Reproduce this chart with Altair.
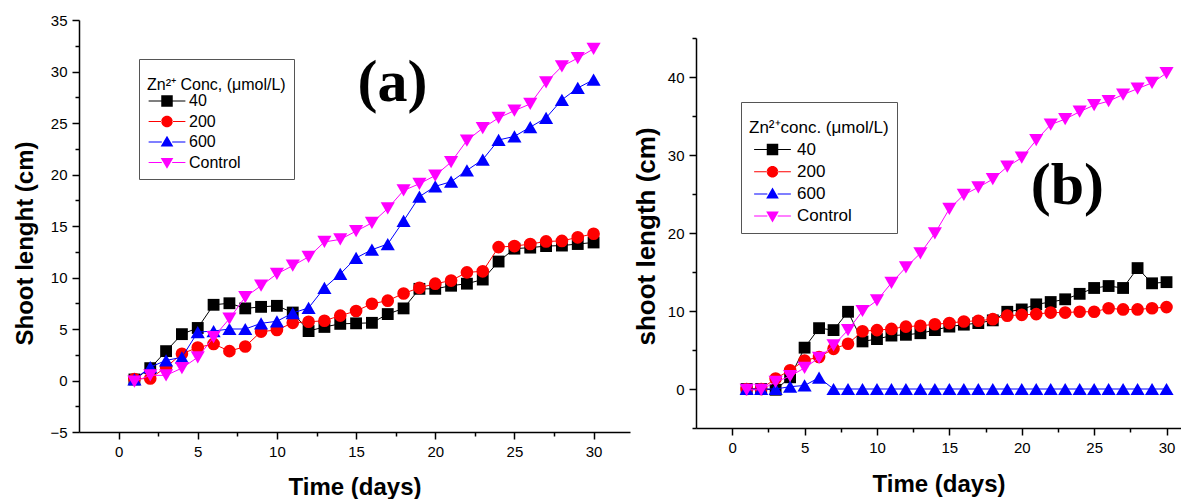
import altair as alt
import pandas as pd

days = list(range(1, 31))
series = ["40", "200", "600", "Control"]
colors = ["#000000", "#FF0000", "#0000FF", "#FF00FF"]
shapes = ["square", "circle", "triangle-up", "triangle-down"]
sizes = [140, 160, 200, 200]

# Panel (a)
a_40 = [0.1, 1.2, 2.85, 4.5, 5.1, 7.35, 7.5, 7.0, 7.15, 7.25, 6.6, 4.8, 5.2, 5.5, 5.55,
        5.6, 6.45, 7.0, 8.9, 8.9, 9.2, 9.4, 9.8, 11.55, 12.8, 12.9, 13.05, 13.1, 13.25, 13.4]
a_200 = [0.15, 0.2, 1.3, 2.6, 3.2, 3.55, 2.85, 3.3, 4.75, 4.9, 5.6, 5.7, 5.8, 6.3, 6.75,
         7.45, 7.75, 8.45, 9.0, 9.4, 9.7, 10.5, 10.6, 12.95, 13.05, 13.25, 13.5, 13.55, 13.9, 14.25]
a_600 = [0.1, 1.3, 1.95, 2.25, 4.7, 4.8, 5.0, 5.0, 5.55, 5.75, 6.55, 7.05, 9.0, 10.35, 11.9,
         12.7, 13.25, 15.5, 17.85, 18.85, 19.3, 20.4, 21.45, 23.35, 23.7, 24.6, 25.5, 27.25, 28.4, 29.2]
a_ctrl = [-0.1, 0.5, 0.5, 1.2, 2.25, 4.2, 6.0, 8.1, 9.2, 10.35, 11.15, 12.0, 13.45, 13.7, 14.5,
          15.3, 16.7, 18.45, 19.1, 19.9, 21.2, 23.3, 24.5, 25.5, 26.2, 26.85, 28.95, 30.5, 31.3, 32.2]

# Panel (b)
b_40 = [0.0, 0.0, -0.1, 1.5, 5.3, 7.8, 7.55, 9.9, 6.1, 6.4, 6.85, 6.95, 7.15, 7.55, 8.0,
        8.25, 8.45, 8.8, 9.9, 10.2, 10.85, 11.15, 11.5, 12.2, 12.95, 13.2, 12.95, 15.5, 13.55, 13.7]
b_200 = [0.0, 0.0, 1.35, 2.4, 3.65, 4.1, 5.15, 5.8, 7.4, 7.55, 7.7, 8.0, 8.1, 8.3, 8.45,
         8.65, 8.75, 8.95, 9.4, 9.5, 9.6, 9.8, 9.8, 9.9, 9.9, 10.35, 10.2, 10.2, 10.35, 10.5]
b_600 = [0.0, 0.0, 0.0, 0.3, 0.45, 1.45, 0.0, 0.0, 0.0, 0.0, 0.0, 0.0, 0.0, 0.0, 0.0,
         0.0, 0.0, 0.0, 0.0, 0.0, 0.0, 0.0, 0.0, 0.0, 0.0, 0.0, 0.0, 0.0, 0.0, 0.0]
b_ctrl = [-0.1, -0.1, 0.9, 1.65, 2.7, 4.0, 5.6, 7.55, 10.0, 11.35, 13.6, 15.6, 17.4, 19.95, 23.1,
          24.9, 25.85, 26.9, 28.5, 29.65, 31.9, 33.9, 34.6, 35.55, 36.4, 36.9, 37.75, 38.5, 39.25, 40.5]

# tick values
x_major = [0, 5, 10, 15, 20, 25, 30]
x_minor = [2.5, 7.5, 12.5, 17.5, 22.5, 27.5]
ya_major = [-5, 0, 5, 10, 15, 20, 25, 30, 35]
ya_minor = [-2.5, 2.5, 7.5, 12.5, 17.5, 22.5, 27.5, 32.5]
yb_major = [0, 10, 20, 30, 40]
yb_minor = [-5, 5, 15, 25, 35, 45]

# legend glyphs: marker with a thin line stub through it (unit box scaled by symbol size)
_stub = "M-3.2,-0.09H-0.9V0.09H-3.2ZM0.9,-0.09H3.2V0.09H0.9Z"
legend_paths = [
    _stub + "M-1,-1H1V1H-1Z",
    _stub + "M-1,0A1,1 0 1,0 1,0A1,1 0 1,0 -1,0Z",
    _stub + "M0,-1.1L1.1,0.8L-1.1,0.8Z",
    _stub + "M0,1.1L1.1,-0.8L-1.1,-0.8Z",
]


def frame(vals):
    rows = []
    for s, v in zip(series, vals):
        for d, y in zip(days, v):
            rows.append({"day": d, "value": y, "series": s})
    return pd.DataFrame(rows)


def panel(df, xdom, ydom, ymaj, ymin, w, h, ytitle, ytitle_y, xt_fs, yt_fs,
          lab_fs, xtitle_pad, ytitle_pad, ltitle, lx, ly, l_fs, l_rowpad, l_tpad,
          l_symoff, l_laboff, ann, ann_x, ann_y):
    xs = alt.Scale(domain=xdom, nice=False, zero=False)
    ys = alt.Scale(domain=ydom, nice=False, zero=False)
    x_main = alt.X("day:Q", scale=xs, axis=alt.Axis(
        values=x_major, title="Time (days)", titleFontSize=xt_fs, orient="bottom",
        tickSize=7, labelFontSize=lab_fs, labelPadding=5, titlePadding=xtitle_pad,
        labelFlush=False, labelOverlap=False))
    y_main = alt.Y("value:Q", scale=ys, axis=alt.Axis(
        values=ymaj, title=ytitle, titleY=ytitle_y, titleFontSize=yt_fs, orient="left",
        tickSize=7, labelFontSize=lab_fs, labelPadding=5, titlePadding=ytitle_pad,
        labelOverlap=False))
    x_min = alt.X("day:Q", scale=xs, axis=alt.Axis(
        values=x_minor, title=None, orient="bottom", tickSize=4, labels=False, domain=False))
    y_min = alt.Y("value:Q", scale=ys, axis=alt.Axis(
        values=ymin, title=None, orient="left", tickSize=4, labels=False, domain=False))
    x_no = alt.X("day:Q", scale=xs, axis=None)
    y_no = alt.Y("value:Q", scale=ys, axis=None)

    layers = []
    for i, (s, c, sh, sz) in enumerate(zip(series, colors, shapes, sizes)):
        sub = alt.Chart(df[df["series"] == s])
        layers.append(sub.mark_line(strokeWidth=1, color=c).encode(
            x=x_main if i == 0 else x_no, y=y_main if i == 0 else y_no, order="day:Q"))
        layers.append(sub.mark_point(
            filled=True, opacity=1, strokeWidth=0, shape=sh, size=sz, color=c).encode(
            x=x_min if i == 0 else x_no, y=y_min if i == 0 else y_no))
    leg = alt.Legend(title=["", ltitle], orient="none", legendX=lx, legendY=ly,
                     titleFont="Liberation Sans", titleFontSize=l_fs, titleFontWeight="normal",
                     titleLineHeight=10,
                     titleColor="black", labelFont="Liberation Sans", labelFontSize=l_fs,
                     labelColor="black", padding=8, titlePadding=l_tpad, rowPadding=l_rowpad,
                     strokeColor="#555555", fillColor="white", symbolOffset=l_symoff,
                     labelOffset=l_laboff, symbolSize=132, symbolStrokeWidth=0, symbolOpacity=1)
    legl = alt.Chart(df).mark_point(filled=True, size=0, strokeWidth=0).encode(
        x=x_no, y=y_no,
        color=alt.Color("series:N", scale=alt.Scale(domain=series, range=colors), legend=leg),
        shape=alt.Shape("series:N", scale=alt.Scale(domain=series, range=legend_paths), legend=leg),
    )
    layers.append(legl)
    txt = alt.Chart(pd.DataFrame({"t": [ann]})).mark_text(
        font="Liberation Serif", fontWeight="bold", fontSize=60, align="center",
        baseline="alphabetic", color="black").encode(
        x=alt.X(datum=ann_x, scale=xs, axis=None), y=alt.Y(datum=ann_y, scale=ys, axis=None),
        text="t:N")
    layers.append(txt)
    return alt.layer(*layers).resolve_axis(x="independent", y="independent").properties(
        width=w, height=h)


df_a = frame([a_40, a_200, a_600, a_ctrl])
df_b = frame([b_40, b_200, b_600, b_ctrl])

pa = panel(df_a, [-2.5, 32.3], [-5, 35], ya_major, ya_minor,
           551, 412, "Shoot lenght (cm)", 223, 24, 24, 15, 16, 12,
           "Zn²⁺ Conc, (μmol/L)", 60, 39, 16, 4.5, 0, 12, 14, "(a)", 17.3, 27.1)
pb = panel(df_b, [-2.5, 31.0], [-5, 45], yb_major, yb_minor,
           485, 390, "shoot length (cm)", 198, 24, 26, 15, 17, 8,
           "Zn²⁺conc. (μmol/L)", 45, 82, 17, 4.2, 4, 15, 16, "(b)", 23.15, 23.7)

spacer = alt.Chart(pd.DataFrame({"a": [0]})).mark_text(text="", size=1).encode(
    x=alt.value(0), y=alt.value(0)).properties(width=10, height=17)

chart = alt.hconcat(pa, alt.vconcat(spacer, pb, spacing=0), spacing=3).resolve_scale(
    color="independent", shape="independent").resolve_legend(
    color="independent", shape="independent").properties(
    padding={"left": 5, "top": 5, "right": 0, "bottom": 0}
).configure_view(stroke=None).configure_axis(
    domainColor="black", domainWidth=1.5, tickColor="black", tickWidth=1.5,
    labelFont="Liberation Sans", labelColor="black", titleFont="Liberation Sans",
    titleFontWeight="bold", titleColor="black", grid=False
)

chart.save("out.html", embed_options={"renderer": "svg", "actions": False})
